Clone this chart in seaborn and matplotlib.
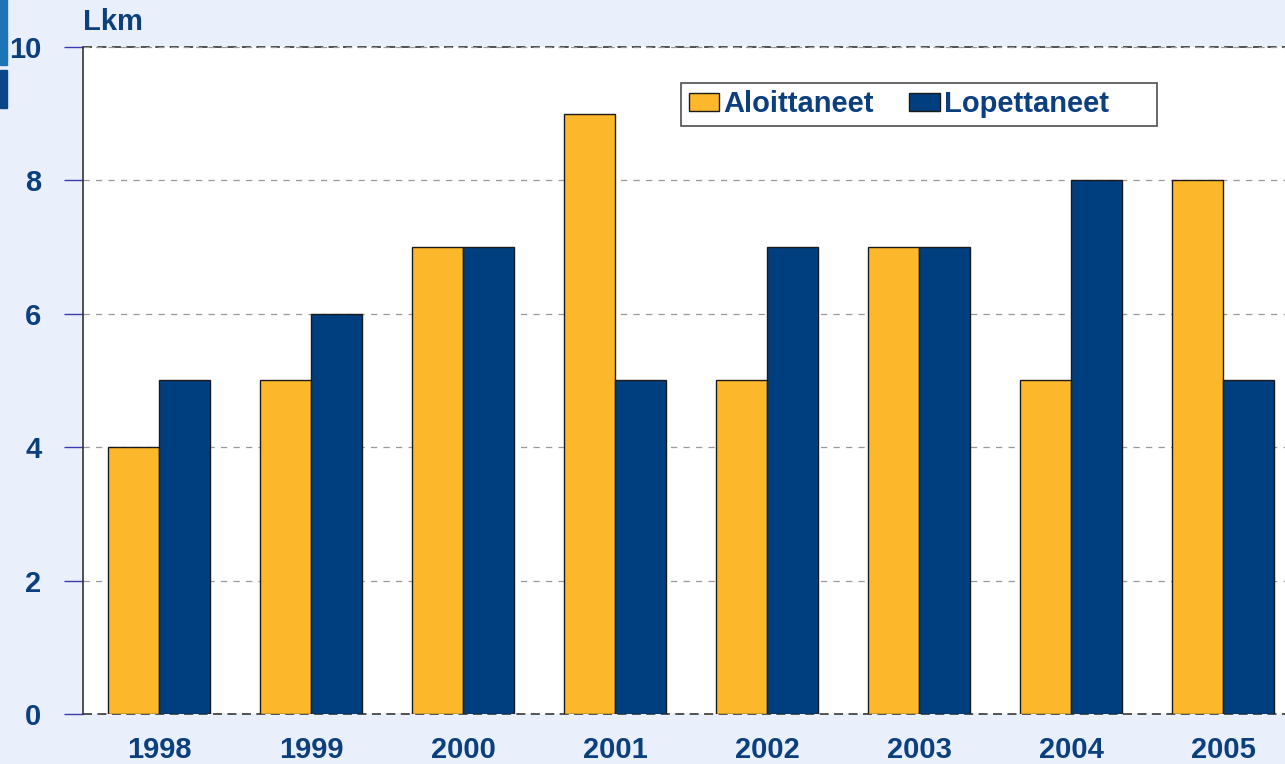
import matplotlib
matplotlib.use("Agg")
import matplotlib.pyplot as plt
import pandas as pd
import seaborn as sns
from matplotlib.patches import Rectangle

# data
years = ["1998", "1999", "2000", "2001", "2002", "2003", "2004", "2005"]
aloittaneet = [4, 5, 7, 9, 5, 7, 5, 8]
lopettaneet = [5, 6, 7, 5, 7, 7, 8, 5]
series_names = ["Aloittaneet", "Lopettaneet"]
y_ticks = [0, 2, 4, 6, 8, 10]

BG = "#EAF0FB"
TEXT = "#0B3F7E"
GOLD = "#FDB72A"
NAVY = "#003F7F"

df = pd.DataFrame({
    "year": years * 2,
    "value": aloittaneet + lopettaneet,
    "series": [series_names[0]] * len(years) + [series_names[1]] * len(years),
})

sns.set_theme(style="white")
plt.rcParams["font.family"] = ["Liberation Sans", "DejaVu Sans"]
plt.rcParams["font.weight"] = "bold"

fig = plt.figure(figsize=(12.85, 7.64), dpi=100, facecolor=BG)
W, H = 1285, 764
ax = fig.add_axes([83 / W, 50 / H, 1216 / W, 667 / H])
ax.set_facecolor("white")

sns.barplot(
    data=df, x="year", y="value", hue="series",
    palette=[GOLD, NAVY], width=0.67, gap=0,
    edgecolor="#1a1a1a", linewidth=1.0, saturation=1,
    ax=ax,
)

ax.set_ylim(0, 10)
ax.set_xlim(-0.5, len(years) - 0.5)
ax.set_yticks(y_ticks)
ax.set_xlabel("")
ax.set_ylabel("")
ax.set_axisbelow(True)
ax.yaxis.grid(True, color="#999999", linestyle=(0, (5, 5)), linewidth=0.9)
# darker dashed frame lines at the bottom and top of the plot area
for yv in (y_ticks[0], y_ticks[-1]):
    ax.axhline(yv, color="#444444", linestyle=(0, (5, 3)), linewidth=1.3,
               clip_on=False, zorder=0.5)

for s in ("top", "bottom", "right"):
    ax.spines[s].set_visible(False)
ax.spines["left"].set_color("#333333")
ax.spines["left"].set_linewidth(1.2)

ax.tick_params(axis="y", left=True, length=14, width=1.0, color="#3A3AB0",
               pad=16, labelsize=21, labelcolor=TEXT)
ax.tick_params(axis="x", bottom=False, length=0, pad=16, labelsize=21,
               labelcolor=TEXT)
for lab in ax.get_xticklabels() + ax.get_yticklabels():
    lab.set_fontweight("bold")

handles, labels = ax.get_legend_handles_labels()
# trailing spaces leave the empty room the original legend box has on its right
labels = [labels[0], labels[1] + "     "]
leg = ax.legend(
    handles, labels,
    loc="upper left", bbox_to_anchor=(0.492, 0.946), ncol=2,
    fontsize=21, frameon=True, fancybox=False, edgecolor="#222222",
    handlelength=1.05, handleheight=0.55, handletextpad=0.15,
    columnspacing=1.2, borderpad=0.25, borderaxespad=0,
)
leg.get_frame().set_linewidth(1.2)
for t in leg.get_texts():
    t.set_color(TEXT)
    t.set_fontweight("bold")

fig.text(83 / W, 1 - 22 / H, "Lkm", color=TEXT, fontsize=21,
         fontweight="bold", ha="left", va="center")

# decorative blocks at the top-left corner
fig.patches.append(Rectangle((0, 1 - 65 / H), 7 / W, 65 / H,
                             transform=fig.transFigure, color="#1F74B8"))
fig.patches.append(Rectangle((0, 1 - 108 / H), 7 / W, 38 / H,
                             transform=fig.transFigure, color="#0A4688"))

fig.savefig("out.png", dpi=100, facecolor=BG)
